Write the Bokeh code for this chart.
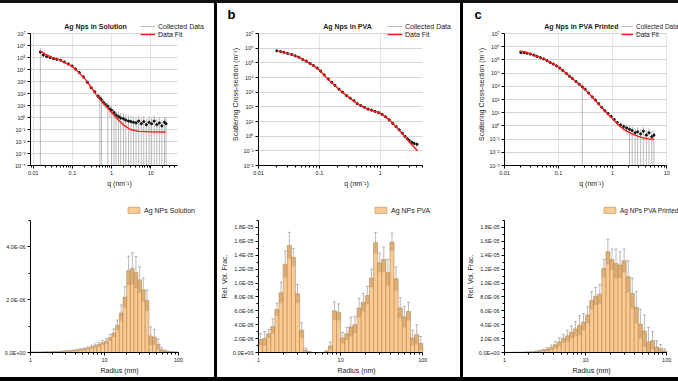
import numpy as np
from bokeh.plotting import figure
from bokeh.layouts import row, column
from bokeh.models import (FixedTicker, CustomJSTickFormatter, Legend, LegendItem,
                          Label, Div, Whisker, TeeHead, ColumnDataSource)
from bokeh.embed import file_html
from bokeh.resources import INLINE

FONT = "Liberation Sans"

# ---------------- SAXS data (q in nm^-1, cross-section in m^-1) ----------------
# a: Ag Nps in Solution
q_sol = [0.0152, 0.018, 0.022, 0.027, 0.033, 0.040, 0.050, 0.062, 0.078, 0.098, 0.12, 0.15, 0.19, 0.24,
         0.30, 0.37, 0.45, 0.50, 0.55, 0.62, 0.70, 0.80, 0.90, 1.0, 1.15, 1.3, 1.5, 1.7, 2.0, 2.3, 2.7,
         3.1, 3.6, 4.2, 4.9, 5.7, 6.6, 7.7, 9.0, 10.5, 12.2, 14.2, 16.5, 19.2, 22.3, 24.5]
I_sol = [2.8e5, 1.6e5, 1.2e5, 1.0e5, 8.0e4, 7.0e4, 5.9e4, 4.2e4, 2.9e4, 1.95e4, 1.1e4, 5.5e3, 2.4e3, 8.5e2,
         3.0e2, 1.4e2, 60, 40, 30, 18, 12, 8.5, 5.0, 4.0, 2.5, 1.6, 1.2, 0.9, 0.8, 0.6, 0.5,
         0.45, 0.4, 0.35, 0.5, 0.3, 0.45, 0.25, 0.4, 0.3, 0.5, 0.25, 0.35, 0.2, 0.4, 0.3]
err_sol = [3.0e5, 4e4, 2.5e4, 1.5e4, 8e3, 6e3, 4e3, 3e3, 2e3, 1.2e3, 6e2, 3e2, 2e2, 1e2,
           50, 25, 15, 45, 35, 8, 6, 9, 4, 4.5, 2.6, 1.7, 2.0, 1.6, 1.5, 1.2, 1.0,
           0.9, 0.8, 0.7, 1.0, 0.6, 0.9, 0.5, 0.8, 0.6, 1.0, 0.5, 0.7, 0.4, 0.8, 0.6]
q_sol_fit = [0.015, 0.02, 0.03, 0.045, 0.065, 0.09, 0.12, 0.16, 0.22, 0.3, 0.4, 0.55, 0.75, 1.0, 1.4,
             2.0, 3.0, 5.0, 10, 24]
I_sol_fit = [3.6e5, 1.9e5, 1.0e5, 6.6e4, 3.8e4, 2.2e4, 1.05e4, 4.2e3, 1.3e3, 3.3e2, 85, 23, 7.5, 2.6, 0.8,
             0.24, 0.1, 0.07, 0.063, 0.062]

# b: Ag Nps in PVA
q_pva = [0.020, 0.023, 0.026, 0.030, 0.035, 0.040, 0.046, 0.053, 0.061, 0.070, 0.080, 0.092, 0.105, 0.12,
         0.14, 0.16, 0.18, 0.21, 0.24, 0.28, 0.32, 0.37, 0.42, 0.48, 0.55, 0.63, 0.72, 0.82, 0.94, 1.07,
         1.22, 1.4, 1.6, 1.82, 2.05, 2.3, 2.55, 2.8, 3.0, 3.3, 3.6, 4.0]
I_pva = [6.6e5, 5.9e5, 5.2e5, 4.4e5, 3.7e5, 3.0e5, 2.4e5, 1.7e5, 1.3e5, 9.2e4, 6.5e4, 4.4e4, 2.7e4, 1.5e4,
         7.8e3, 4.6e3, 2.9e3, 1.6e3, 1.0e3, 5.8e2, 3.9e2, 2.6e2, 1.65e2, 1.2e2, 92, 70, 59, 49, 40, 31,
         21, 13, 7.5, 4.4, 2.7, 1.6, 0.95, 0.65, 0.5, 0.38, 0.32, 0.28]
err_pva = [1e4, 9e3, 8e3, 7e3, 6e3, 5e3, 4e3, 3e3, 2.5e3, 1.8e3, 1.3e3, 9e2, 5e2, 3e2,
           1.6e2, 90, 60, 35, 22, 13, 9, 6, 4, 3, 2.2, 1.8, 1.5, 1.3, 1.1, 0.9,
           0.7, 0.5, 0.35, 0.25, 0.2, 0.15, 0.15, 0.15, 0.15, 0.15, 0.12, 0.12]
q_pva_fit = [0.020, 0.025, 0.030, 0.040, 0.050, 0.065, 0.08, 0.10, 0.13, 0.17, 0.22, 0.28, 0.35, 0.42,
             0.52, 0.62, 0.75, 0.9, 1.1, 1.3, 1.6, 2.0, 2.5, 3.0, 3.5, 4.1]
I_pva_fit = [6.6e5, 5.5e5, 4.4e5, 3.0e5, 2.0e5, 1.1e5, 6.5e4, 3.2e4, 1.0e4, 3.5e3, 1.3e3, 5.8e2, 2.9e2, 1.65e2,
             1.0e2, 72, 56, 43, 28, 17, 7.5, 3.0, 1.0, 0.4, 0.2, 0.1]

# c: Ag Nps in PVA Printed
q_prn = [0.020, 0.023, 0.026, 0.030, 0.035, 0.040, 0.046, 0.053, 0.061, 0.070, 0.080, 0.092, 0.105, 0.12,
         0.14, 0.16, 0.18, 0.21, 0.24, 0.275, 0.31, 0.36, 0.42, 0.48, 0.55, 0.63, 0.72, 0.82, 0.94, 1.07,
         1.22, 1.4, 1.6, 1.82, 2.05, 2.3, 2.6, 2.9, 3.3, 3.7, 4.2, 4.7, 5.3, 5.8]
I_prn = [3.6e5, 3.5e5, 3.2e5, 2.8e5, 2.3e5, 1.85e5, 1.5e5, 1.18e5, 8.8e4, 6.4e4, 4.8e4, 3.5e4, 2.4e4, 1.55e4,
         9.2e3, 5.6e3, 3.9e3, 2.3e3, 1.45e3, 9.0e2, 6.0e2, 3.1e2, 1.55e2, 90, 48, 25, 14, 8.5, 5.2, 3.0,
         1.8, 1.2, 0.9, 0.7, 0.55, 0.45, 0.3, 0.35, 0.25, 0.4, 0.2, 0.3, 0.15, 0.2]
err_prn = [1.5e4, 1.4e4, 1.2e4, 1e4, 8e3, 6e3, 5e3, 4e3, 3e3, 2.2e3, 1.6e3, 1.2e3, 8e2, 5e2,
           3e2, 1.8e2, 1.2e2, 70, 45, 1.0e3, 20, 10, 6, 4, 2.5, 1.5, 1.0, 0.7, 0.5, 0.4,
           0.35, 0.5, 0.5, 0.45, 0.6, 0.5, 0.4, 0.45, 0.35, 0.5, 0.3, 0.4, 0.25, 0.3]
q_prn_fit = [0.019, 0.025, 0.032, 0.042, 0.055, 0.07, 0.093, 0.115, 0.143, 0.18, 0.217, 0.267, 0.34, 0.437,
             0.58, 0.76, 1.0, 1.33, 1.7, 2.33, 3.0, 3.55, 4.5, 5.8]
I_prn_fit = [4.7e5, 3.8e5, 2.6e5, 1.7e5, 1.1e5, 6.5e4, 3.5e4, 1.8e4, 8.5e3, 3.9e3, 2.0e3, 1.0e3, 3.9e2, 1.3e2,
             36, 11, 3.4, 1.0, 0.48, 0.24, 0.16, 0.13, 0.105, 0.093]

# ---------------- size distributions (rel. vol. fraction, units of 1e-6) ----------------
radius_edges = np.logspace(0, 2, 41)   # nm, 20 log bins per decade
vf_sol = [0.01, 0.01, 0.01, 0.02, 0.02, 0.02, 0.03, 0.03, 0.04, 0.05,
          0.06, 0.07, 0.09, 0.11, 0.13, 0.16, 0.20, 0.25, 0.30, 0.36,
          0.42, 0.56, 0.74, 1.03, 1.50, 2.09, 3.10, 3.18, 3.03, 2.75,
          2.37, 1.97, 0.62, 0.58, 0.31, 0.10, 0.05, 0.03, 0.02, 0.01]
vf_sol_err = [0.01, 0.01, 0.01, 0.01, 0.01, 0.01, 0.01, 0.01, 0.02, 0.02,
              0.02, 0.02, 0.03, 0.03, 0.04, 0.05, 0.06, 0.07, 0.08, 0.09,
              0.10, 0.12, 0.15, 0.20, 0.30, 0.40, 0.55, 0.60, 0.60, 0.50,
              0.45, 0.40, 0.35, 0.30, 0.20, 0.08, 0.04, 0.02, 0.02, 0.01]
vf_pva = [1.85, 2.0, 2.7, 3.75, 6.2, 8.6, 12.7, 15.4, 13.7, 8.45,
          3.2, 0.33, 0.05, 0.0, 0.0, 0.0, 0.15, 0.95, 6.0, 5.8,
          2.1, 2.7, 3.7, 4.0, 6.4, 7.2, 8.2, 10.7, 15.8, 12.9,
          13.4, 11.5, 15.9, 10.6, 6.4, 5.1, 5.9, 2.1, 2.6, 1.3]
vf_pva_err = [0.85, 1.0, 0.6, 1.1, 0.9, 1.5, 1.9, 1.9, 1.3, 1.35,
              1.1, 0.3, 0.1, 0.0, 0.0, 0.0, 0.1, 0.55, 1.3, 1.2,
              0.8, 0.9, 1.4, 1.2, 1.4, 1.3, 1.3, 1.3, 1.5, 1.4,
              1.8, 1.9, 1.3, 1.7, 1.5, 1.5, 1.3, 1.1, 1.4, 1.0]
vf_prn = [0.01, 0.01, 0.02, 0.02, 0.03, 0.05, 0.08, 0.12, 0.2, 0.3,
          0.45, 0.7, 1.1, 1.5, 2.0, 2.4, 2.9, 3.4, 3.9, 4.4,
          5.4, 7.5, 8.1, 8.4, 12.1, 14.5, 13.4, 12.8, 12.6, 13.2,
          10.9, 8.5, 6.5, 4.1, 3.1, 1.5, 1.7, 0.8, 0.55, 0.2]
vf_prn_err = [0.01, 0.01, 0.02, 0.02, 0.03, 0.04, 0.05, 0.08, 0.1, 0.15,
              0.25, 0.35, 0.5, 0.6, 0.6, 0.8, 0.9, 1.1, 1.4, 1.2,
              1.2, 1.3, 1.3, 1.4, 1.3, 1.8, 1.5, 2.1, 1.9, 1.7,
              2.3, 2.2, 2.3, 2.1, 2.3, 2.1, 1.3, 0.9, 0.6, 0.3]

# ---------------- formatters ----------------
pow_fmt = CustomJSTickFormatter(code="""
const e = Math.round(Math.log10(tick));
const s = {"-":"\u207B","0":"\u2070","1":"\u00B9","2":"\u00B2","3":"\u00B3","4":"\u2074",
           "5":"\u2075","6":"\u2076","7":"\u2077","8":"\u2078","9":"\u2079"};
return "10" + String(e).split("").map(c => s[c]).join("");
""")
plain_fmt = CustomJSTickFormatter(code="return String(tick);")
sci_fmt = CustomJSTickFormatter(code="""
if (Math.abs(tick) < 1e-12) { return "0.0E+00"; }
const e = Math.floor(Math.log10(Math.abs(tick)) + 1e-9);
const m = tick / Math.pow(10, e);
const sg = e < 0 ? "-" : "+";
return m.toFixed(1) + "E" + sg + String(Math.abs(e)).padStart(2, "0");
""")

minor_log = [m * 10.0 ** e for e in (-3, -2, -1, 0, 1) for m in range(2, 10)]
TXT = "#222222"


def within(vals, lim):
    return [v for v in vals if lim[0] * 0.999 <= v <= lim[1] * 1.001]


def log_ext(lo, hi, data_px, frame_px):
    a, b = np.log10(lo), np.log10(hi)
    return 10 ** (a + (b - a) * frame_px / data_px)


def style_axes(p):
    for ax in (p.xaxis[0], p.yaxis[0]):
        ax.axis_line_color = "black"
        ax.axis_line_width = 1
        ax.major_tick_in = 0
        ax.major_tick_out = 3
        ax.minor_tick_in = 0
        ax.minor_tick_out = 2
        ax.major_tick_line_color = "black"
        ax.minor_tick_line_color = "black"
        ax.major_label_text_font = FONT
        ax.major_label_text_font_size = "5.5px"
        ax.major_label_text_color = TXT
        ax.major_label_standoff = 2
        ax.axis_label_text_font = FONT
        ax.axis_label_text_font_size = "7px"
        ax.axis_label_text_font_style = "normal"
        ax.axis_label_text_color = TXT
        ax.axis_label_standoff = 2


def make_legend(items, xy, font_size="7px", glyph_w=15):
    return Legend(items=items, location=xy, orientation="vertical", glyph_width=glyph_w,
                  glyph_height=8, label_height=8, label_standoff=3, spacing=0, padding=0,
                  margin=0, border_line_color=None, background_fill_alpha=0,
                  label_text_font=FONT, label_text_font_size=font_size, label_text_color=TXT)


def saxs(width, left, right, xlim, data_w, ylim, q, I, err, qf, If, title, title_x, ylabel,
         leg_x, letter=None, leg_font="7px", leg_glyph=15):
    frame_w = width - left - right
    x_end = log_ext(xlim[0], xlim[1], data_w, frame_w)
    y_end = log_ext(ylim[0], ylim[1], 132, 142)
    p = figure(width=width, height=187, x_axis_type="log", y_axis_type="log",
               x_range=(xlim[0], x_end), y_range=(ylim[0], y_end),
               output_backend="svg", toolbar_location=None,
               min_border_left=left, min_border_right=right, min_border_top=20,
               min_border_bottom=25, title=letter[0] if letter else None)
    p.outline_line_color = None
    p.background_fill_color = "white"
    p.border_fill_color = "white"
    style_axes(p)
    if letter:
        p.title.align = "left"
        p.title.offset = letter[1]
        p.title.text_font = FONT
        p.title.text_font_size = "13px"
        p.title.text_font_style = "bold"
        p.title.text_color = "black"
        p.title.standoff = 3
    p.xaxis.bounds = xlim
    p.yaxis.bounds = ylim
    p.xaxis.ticker = FixedTicker(ticks=within([0.01, 0.1, 1, 10], xlim),
                                 minor_ticks=within(minor_log, xlim))
    p.yaxis.ticker = FixedTicker(ticks=within([10.0 ** k for k in range(-4, 8)], ylim))
    p.xaxis.formatter = plain_fmt
    p.yaxis.formatter = pow_fmt
    p.xaxis.axis_label = "q (nm\u207B\u00B9)"
    if ylabel:
        p.yaxis.axis_label = "Scattering Cross-section (m\u207B\u00B9)"
    p.xgrid.grid_line_color = "#e4e4e4"
    p.ygrid.grid_line_color = "#d6d6d6"
    p.xgrid.cross_bounds = ylim
    p.ygrid.cross_bounds = xlim
    q = np.array(q); I = np.array(I); err = np.array(err)
    lo = I - err
    lo = np.where(lo > 0, lo, 1e-12)
    hi = I + err
    seg = p.segment(x0=q, y0=lo, x1=q, y1=hi, line_color="#8c8c8c", line_width=0.6)
    p.scatter(q, I, size=2.2, marker="circle", fill_color="#111111", line_color="#111111")
    ln = p.line(qf, If, line_color="#ff1a1a", line_width=1.4)
    p.add_layout(make_legend([LegendItem(label="Collected Data", renderers=[seg]),
                              LegendItem(label="Data Fit", renderers=[ln])],
                             (leg_x, 127), leg_font, leg_glyph))
    p.add_layout(Label(x=title_x, y=139, x_units="screen", y_units="screen", text=title,
                       text_font=FONT, text_font_size="7px", text_font_style="bold",
                       text_color=TXT, text_align="center", text_baseline="middle"))
    return p


def hist(width, left, right, data_w, vals, errs, ytop, label, ylabel, leg_x, leg_font="7px"):
    frame_w = width - left - right
    x_end = log_ext(1, 100, data_w, frame_w)
    y_end = ytop * 152 / 132
    p = figure(width=width, height=187, x_axis_type="log", x_range=(1, x_end), y_range=(0, y_end),
               output_backend="svg", toolbar_location=None,
               min_border_left=left, min_border_right=right, min_border_top=10, min_border_bottom=25)
    p.outline_line_color = None
    p.background_fill_color = "white"
    p.border_fill_color = "white"
    style_axes(p)
    p.xgrid.visible = False
    p.ygrid.visible = False
    p.xaxis.bounds = (1, 100)
    p.yaxis.bounds = (0, ytop)
    p.xaxis.ticker = FixedTicker(ticks=[1, 10, 100], minor_ticks=within(minor_log, (1, 100)))
    p.xaxis.formatter = plain_fmt
    p.yaxis.ticker = FixedTicker(ticks=within([k * 2e-6 for k in range(10)], (0, ytop)),
                                 minor_ticks=within([(2 * k + 1) * 1e-6 for k in range(10)], (0, ytop)))
    p.yaxis.formatter = sci_fmt
    p.xaxis.axis_label = "Radius (nm)"
    if ylabel:
        p.yaxis.axis_label = "Rel. Vol. Frac."
    v = np.array(vals) * 1e-6
    e = np.array(errs) * 1e-6
    left_e = radius_edges[:-1]
    right_e = radius_edges[1:]
    centers = np.sqrt(left_e * right_e)
    bars = p.quad(left=left_e, right=right_e, bottom=0, top=v, fill_color="#fcca90",
                  line_color="#a27e55", line_width=0.5)
    p.quad(left=left_e, right=right_e, bottom=np.clip(v - e, 0, None), top=v,
           fill_color="#b98b55", fill_alpha=0.45, line_color=None)
    src = ColumnDataSource(dict(x=centers, top=v, up=v + e))
    p.add_layout(Whisker(base="x", lower="top", upper="up", source=src, line_color="#8a8a8a",
                         line_width=0.6, lower_head=None,
                         upper_head=TeeHead(size=3, line_color="#8a8a8a", line_width=0.6)))
    p.add_layout(make_legend([LegendItem(label=label, renderers=[bars])], (leg_x, 138), leg_font))
    return p


# ---------------- panels (frames of a column share left/right borders) ----------------
a_top = saxs(214, 30, 6, (0.0085, 48), 147, (1e-4, 1e7), q_sol, I_sol, err_sol, q_sol_fit, I_sol_fit,
             "Ag Nps in Solution", 65, False, 110)
b_top = saxs(243, 39, 6, (0.01, 5.0), 166, (1e-2, 1e7), q_pva, I_pva, err_pva, q_pva_fit, I_pva_fit,
             "Ag Nps in PVA", 89, True, 129, letter=("b", -31))
c_top = saxs(215, 38, 0, (0.01, 10), 165, (1e-3, 1e7), q_prn, I_prn, err_prn, q_prn_fit, I_prn_fit,
             "Ag Nps in PVA Printed", 77, True, 117, letter=("c", -30), leg_font="6.5px", leg_glyph=12)

a_bot = hist(214, 30, 6, 148, vf_sol, vf_sol_err, 5e-6, "Ag NPs Solution", False, 96)
b_bot = hist(243, 39, 6, 166, vf_pva, vf_pva_err, 1.9e-5, "Ag NPs PVA", True, 115)
c_bot = hist(215, 38, 0, 165, vf_prn, vf_prn_err, 1.9e-5, "Ag NPs PVA Printed", True, 98, leg_font="6.5px")

col_a = column(a_top, a_bot)
col_b = column(b_top, b_bot)
col_c = column(c_top, c_bot)
sep1 = Div(width=3, height=374, styles={"background-color": "black"}, margin=0)
sep2 = Div(width=3, height=374, styles={"background-color": "black"}, margin=0)
top_line = Div(width=678, height=3, styles={"background-color": "#111111"}, margin=0)
bot_line = Div(width=678, height=4, styles={"background-color": "black"}, margin=0)

layout = column(top_line, row(col_a, sep1, col_b, sep2, col_c), bot_line)

open("out.html", "w").write(file_html(layout, INLINE))
